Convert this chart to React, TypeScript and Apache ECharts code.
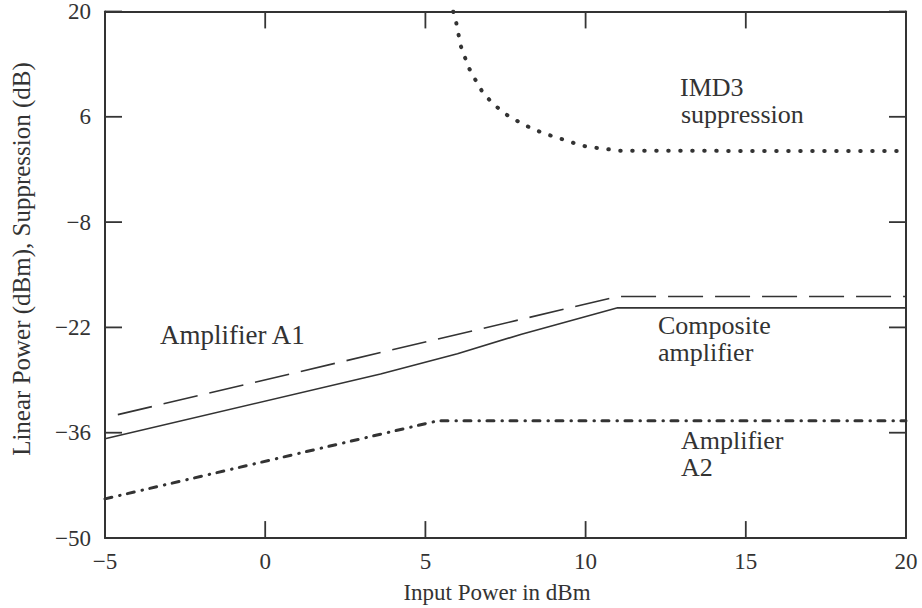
import React, { useEffect, useRef } from "react";
import * as echarts from "echarts";

const xTicks = [-5, 0, 5, 10, 15, 20];
const yTicks = [20, 6, -8, -22, -36, -50];
const X_MIN = -5;
const X_MAX = 20;
const Y_MIN = -50;
const Y_MAX = 20;
// tick length expressed in data units (about 17 px on each axis)
const TICK_X = 0.53;
const TICK_Y = 2.25;

const amplifierA1: [number, number][] = [
  [-4.6, -33.6],
  [11.0, -17.9],
  [20, -17.9],
];

const composite: [number, number][] = [
  [-5, -36.8],
  [3.6, -28.2],
  [6.0, -25.5],
  [8.0, -22.9],
  [11.0, -19.4],
  [20, -19.4],
];

const amplifierA2: [number, number][] = [
  [-5, -44.8],
  [5.4, -34.4],
  [20, -34.4],
];

const imd3: [number, number][] = [
  [5.87, 20],
  [5.96, 18.57],
  [6.03, 17.02],
  [6.1, 15.47],
  [6.23, 13.94],
  [6.37, 12.39],
  [6.57, 10.84],
  [6.78, 9.31],
  [7.1, 7.76],
  [7.51, 6.34],
  [7.91, 5.34],
  [8.3, 4.49],
  [8.7, 3.79],
  [9.09, 3.26],
  [9.48, 2.73],
  [9.88, 2.16],
  [10.27, 1.9],
  [10.66, 1.71],
  [11.05, 1.48],
  [20, 1.45],
];

const FONT = "'Liberation Serif', 'Times New Roman', serif";
const INK = "#333";
const TICK_INK = "#353535";

export default function App() {
  const ref = useRef<HTMLDivElement>(null);
  useEffect(() => {
    if (!ref.current) return;
    const chart = echarts.init(ref.current, undefined, { renderer: "svg" });
    const axisCommon = {
      type: "value" as const,
      axisLine: { show: true, onZero: false, lineStyle: { color: INK, width: 2 } },
      axisTick: { show: false },
      splitLine: { show: false },
    };
    const text = (t: string, x: number, y: number, size = 26) => ({
      type: "text",
      x,
      y,
      style: {
        text: t,
        font: `${size}px ${FONT}`,
        fill: INK,
        textAlign: "left",
        textVerticalAlign: "middle",
      },
    });

    // tick segments built from the tick arrays, drawn as tiny line series
    const tickSegments: [number, number][][] = [
      ...xTicks.map((v) => [[v, Y_MIN], [v, Y_MIN + TICK_Y]] as [number, number][]),
      ...xTicks.map((v) => [[v, Y_MAX], [v, Y_MAX - TICK_Y]] as [number, number][]),
      ...yTicks.map((v) => [[X_MIN, v], [X_MIN + TICK_X, v]] as [number, number][]),
      ...yTicks.map((v) => [[X_MAX, v], [X_MAX - TICK_X, v]] as [number, number][]),
    ];
    const tickSeries = tickSegments.map((seg, i) => ({
      name: `tick${i}`,
      type: "line",
      data: seg,
      symbol: "none",
      silent: true,
      clip: false,
      z: 5,
      lineStyle: { color: TICK_INK, width: 1.8, type: "solid" },
    }));

    chart.setOption({
      animation: false,
      backgroundColor: "#fff",
      grid: { left: 105, right: 16, top: 9, bottom: 70, containLabel: false },
      xAxis: [
        {
          ...axisCommon,
          position: "bottom",
          min: X_MIN,
          max: X_MAX,
          interval: 5,
          axisLabel: {
            show: true,
            margin: 12,
            color: INK,
            fontFamily: FONT,
            fontSize: 23,
            formatter: (v: number) => (xTicks.includes(v) ? String(v).replace("-", "\u2212") : ""),
          },
        },
        {
          ...axisCommon,
          position: "top",
          min: X_MIN,
          max: X_MAX,
          interval: 5,
          axisLabel: { show: false },
        },
      ],
      yAxis: [
        {
          ...axisCommon,
          position: "left",
          min: Y_MIN,
          max: Y_MAX,
          interval: 14,
          axisLabel: {
            show: true,
            margin: 14,
            color: INK,
            fontFamily: FONT,
            fontSize: 23,
            padding: [12, 0, 0, 0],
            formatter: (v: number) => (yTicks.includes(v) ? String(v).replace("-", "\u2212") : ""),
          },
        },
        {
          ...axisCommon,
          position: "right",
          min: Y_MIN,
          max: Y_MAX,
          interval: 14,
          axisLabel: { show: false },
        },
      ],
      series: [
        ...tickSeries,
        {
          name: "Amplifier A1",
          type: "line",
          data: amplifierA1,
          symbol: "none",
          lineStyle: { color: INK, width: 1.6, type: [35, 12] },
        },
        {
          name: "Composite amplifier",
          type: "line",
          data: composite,
          symbol: "none",
          lineStyle: { color: INK, width: 1.6, type: "solid" },
        },
        {
          name: "Amplifier A2",
          type: "line",
          data: amplifierA2,
          symbol: "none",
          lineStyle: { color: INK, width: 3, type: [7, 8, 0.5, 7.5], cap: "round" },
        },
        {
          name: "IMD3 suppression",
          type: "line",
          data: imd3,
          symbol: "none",
          lineStyle: { color: INK, width: 4, type: [0.5, 11.5], cap: "round" },
        },
      ],
      graphic: [
        text("IMD3", 680, 87),
        text("suppression", 681, 114),
        text("Amplifier A1", 160, 335, 27),
        text("Composite", 658, 325),
        text("amplifier", 658, 352),
        text("Amplifier", 681, 440),
        text("A2", 681, 467),
        {
          type: "text",
          x: 497,
          y: 592,
          style: {
            text: "Input Power in dBm",
            font: `23px ${FONT}`,
            fill: INK,
            textAlign: "center",
            textVerticalAlign: "middle",
          },
        },
        {
          type: "text",
          x: 21,
          y: 259,
          rotation: Math.PI / 2,
          style: {
            text: "Linear Power (dBm), Suppression (dB)",
            font: `25px ${FONT}`,
            fill: INK,
            textAlign: "center",
            textVerticalAlign: "middle",
          },
        },
      ],
    });
    return () => chart.dispose();
  }, []);
  return <div ref={ref} style={{ width: 922, height: 608, position: "absolute", left: 0, top: 0 }} />;
}
